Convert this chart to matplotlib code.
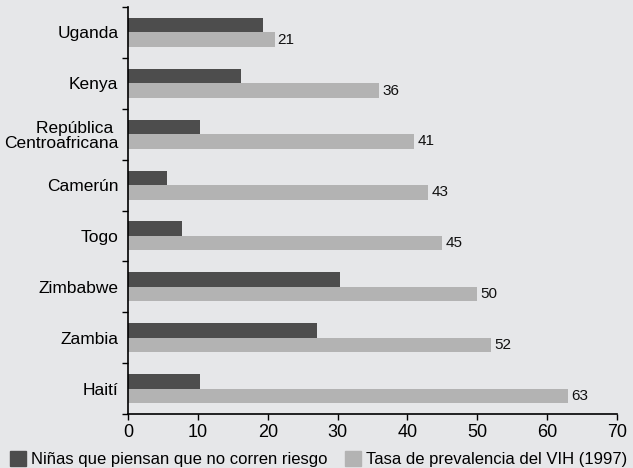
import numpy as np
import matplotlib.pyplot as plt
from matplotlib.patches import Patch

countries = ["Uganda", "Kenya", "República \nCentroafricana", "Camerún",
             "Togo", "Zimbabwe", "Zambia", "Haití"]
ninas = [19.3, 16.2, 10.3, 5.6, 7.7, 30.3, 27.0, 10.3]
vih = [21, 36, 41, 43, 45, 50, 52, 63]
xticks = [0, 10, 20, 30, 40, 50, 60, 70]

bg = "#e6e7e9"
dark = "#4d4d4d"
light = "#b3b3b3"

plt.rcParams['font.family'] = ['Liberation Sans', 'DejaVu Sans']

fig = plt.figure(figsize=(6.33, 4.68), dpi=100, facecolor=bg)
ax = fig.add_axes([0.2022, 0.1154, 0.7725, 0.8696])
ax.set_facecolor(bg)

y = np.arange(len(countries))
h = 0.285
ax.barh(y - h/2, ninas, height=h, color=dark)
ax.barh(y + h/2, vih, height=h, color=light)
for yi, v in zip(y, vih):
    ax.text(v + 0.4, yi + h/2, str(v), va="center", ha="left", fontsize=11, color="#111111")

ax.set_xlim(0, 70)
ax.set_ylim(len(countries) - 0.5, -0.5)
ax.set_xticks(xticks)
ax.set_yticks(y)
ax.set_yticklabels(countries, fontsize=12.5, linespacing=1.0)
ax.set_yticks(np.arange(len(countries) + 1) - 0.5, minor=True)
ax.tick_params(axis="y", which="major", length=0, pad=7)
ax.tick_params(axis="y", which="minor", length=4, direction="out", width=1)
ax.tick_params(axis="x", length=4, direction="out", width=1, labelsize=13, pad=3)

for s in ["top", "right"]:
    ax.spines[s].set_visible(False)
for s in ["left", "bottom"]:
    ax.spines[s].set_linewidth(1.2)

handles = [Patch(color=dark, label="Niñas que piensan que no corren riesgo"),
           Patch(color=light, label="Tasa de prevalencia del VIH (1997)")]
fig.legend(handles=handles, loc="lower left", bbox_to_anchor=(0.005, -0.012), ncol=2,
           frameon=False, fontsize=12, handlelength=1.0, handleheight=1.0,
           handletextpad=0.3, columnspacing=1.0, borderaxespad=0)

fig.savefig("out.png", dpi=100, facecolor=bg)
